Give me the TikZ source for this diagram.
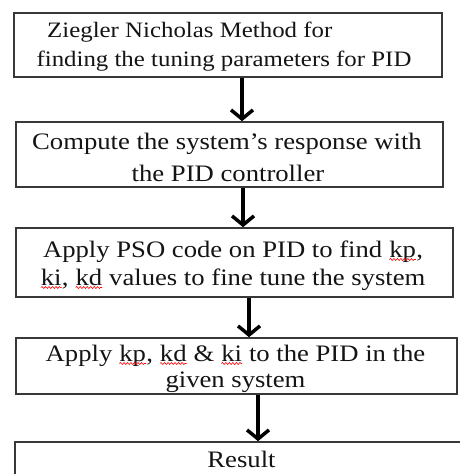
\documentclass[tikz,border=0pt]{standalone}
\usepackage{fontspec}
\setmainfont[FakeStretch=1.13]{Liberation Serif}
\usetikzlibrary{arrows.meta,decorations.pathmorphing}

% wavy red underline under a word
\newcommand{\wavyword}[1]{%
  \tikz[baseline=(w.base)]{%
    \node[inner sep=0pt, outer sep=0pt, anchor=base] (w) at (0,0) {#1};
    \draw[red, line width=0.6pt, decorate,
          decoration={snake, amplitude=1pt, segment length=3.5pt}]
      ([yshift=-2.5pt]w.base west) -- ([yshift=-2.5pt]w.base east);}}

\tikzset{
  box/.style={draw=black!78, line width=1.6pt, rectangle, inner sep=0pt, fill=white},
  txt/.style={font=\fontsize{23.6}{28}\selectfont, inner sep=0pt, anchor=base, text=black!92},
  smalltxt/.style={txt, font=\fontsize{22}{26}\selectfont},
  flow/.style={line width=3.5pt, -{Straight Barb[length=9pt,width=22pt]}}
}

\begin{document}
\begin{tikzpicture}[x=1pt, y=-1pt]
  \useasboundingbox (0,0) rectangle (460,474);

  % process boxes
  \node[box, minimum width=428pt, minimum height=64pt] (b1) at (228,45) {};
  \node[box, minimum width=427pt, minimum height=65pt] (b2) at (229.5,154.5) {};
  \node[box, minimum width=437pt, minimum height=69pt] (b3) at (234.5,262.5) {};
  \node[box, minimum width=441pt, minimum height=56pt] (b4) at (236.5,366) {};
  \node[box, minimum width=460pt, minimum height=60pt] (b5) at (245,472) {};

  % box texts
  \node[smalltxt, anchor=base west] (t1a) at (47,37) {Ziegler Nicholas Method for};
  \node[smalltxt] (t1b) at (224,66) {finding the tuning parameters for PID};
  \node[txt] (t2a) at (227,149) {Compute the system's response with};
  \node[txt] (t2b) at (228,181) {the PID controller};
  \node[txt] (t3a) at (233,257) {Apply PSO code on PID to find \wavyword{kp},};
  \node[txt] (t3b) at (233,285) {\wavyword{ki}, \wavyword{kd} values to fine tune the system};
  \node[txt] (t4a) at (235.5,361) {Apply \wavyword{kp}, \wavyword{kd} \& \wavyword{ki} to the PID in the};
  \node[txt] (t4b) at (235.5,387) {given system};
  \node[txt] (t5) at (241.5,467) {Result};

  % connectors
  \draw[flow] ([xshift=14pt]b1.south) -- ([xshift=12.5pt]b2.north);
  \draw[flow] ([xshift=13.5pt]b2.south) -- ([xshift=8.5pt]b3.north);
  \draw[flow] ([xshift=14.5pt]b3.south) -- ([xshift=12.5pt]b4.north);
  \draw[flow] ([xshift=21.5pt]b4.south) -- ([xshift=13pt]b5.north);
\end{tikzpicture}
\end{document}
